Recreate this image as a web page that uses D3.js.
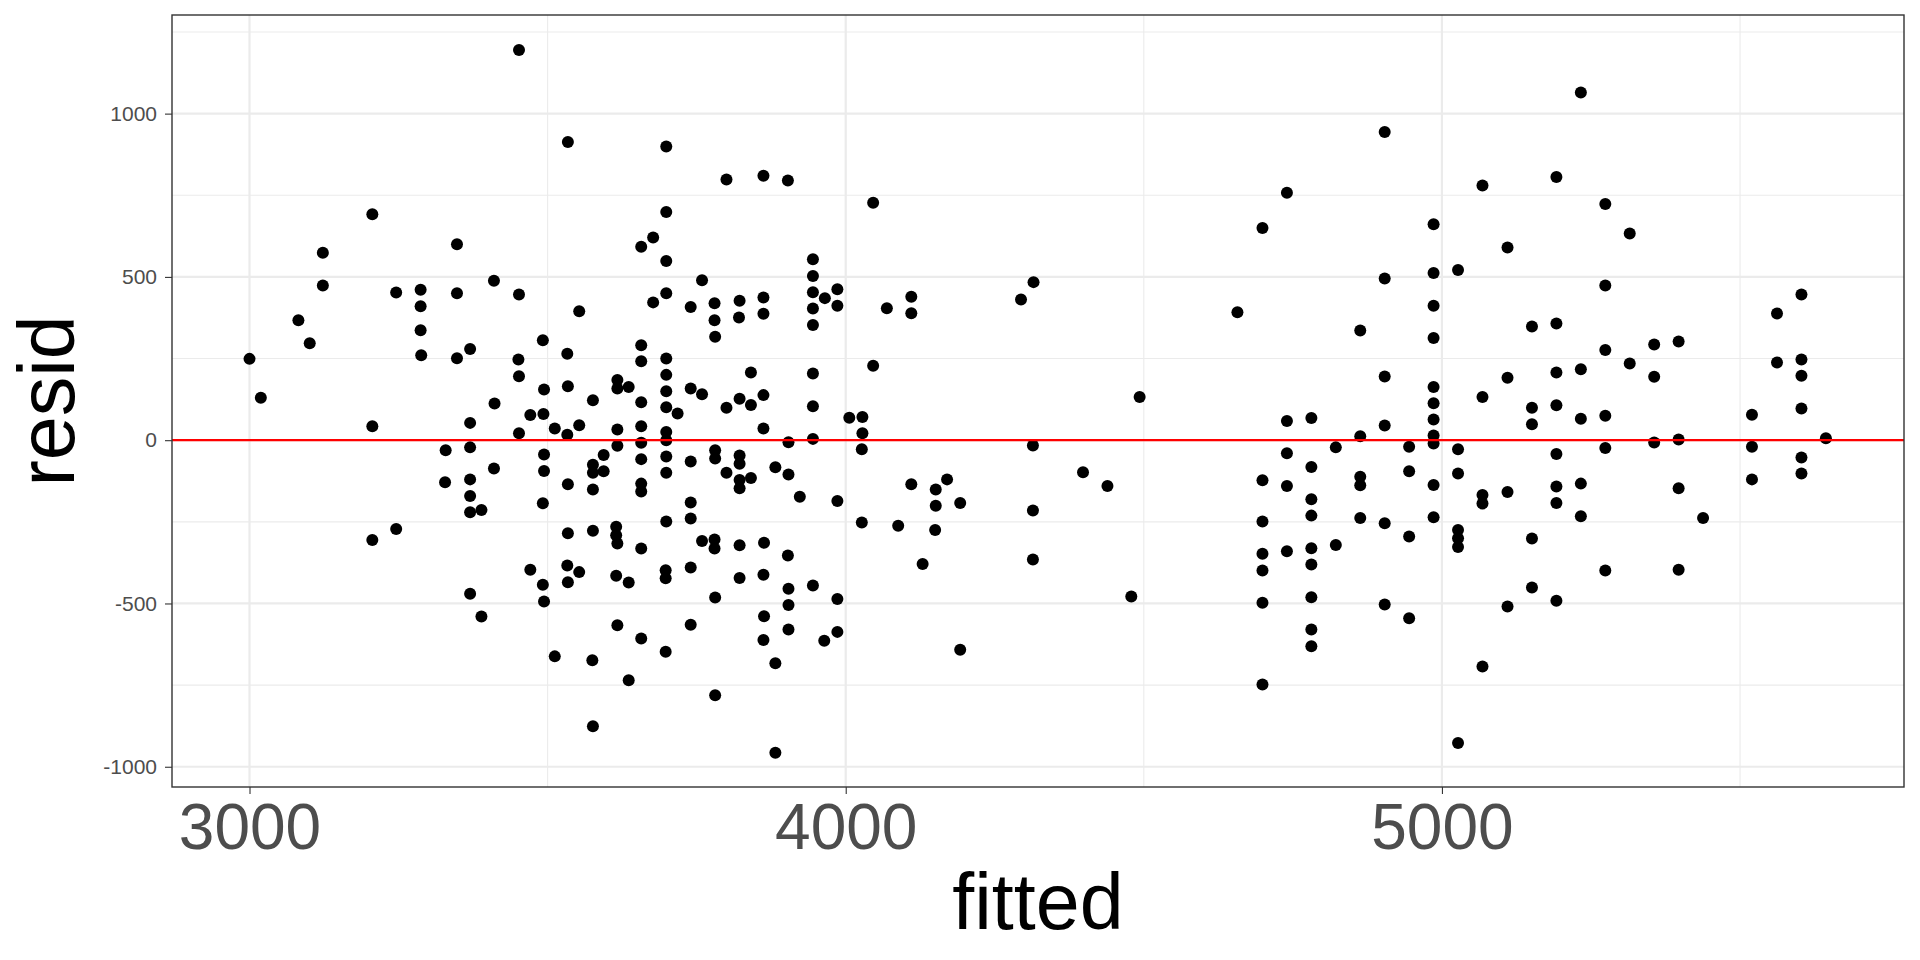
<!DOCTYPE html>
<html>
<head>
<meta charset="utf-8">
<script src="https://cdn.jsdelivr.net/npm/d3@7"></script>
<style>
  body { margin: 0; background: #fff; }
  svg { display: block; }
</style>
</head>
<body>
<div id="chart"></div>
<script>
// tick values
const xTicks = [3000, 4000, 5000];
const xMinor = [3500, 4500, 5500];
const yTicks = [-1000, -500, 0, 500, 1000];
const yMinor = [-750, -250, 250, 750, 1250];

// [fitted, resid], lower fitted cluster
const lowerTop = [
  [3452,1195],[3534,913],[3206,692],[3348,600],[3123,574],[3123,474],[3410,488],[3246,452],
  [3287,461],[3348,450],[3452,446],[3287,410],[3553,395],[3082,367],[3287,337],[3101,297],
  [3492,306],[3370,279],[3000,249],[3288,260],[3348,251],[3533,265],[3451,247],[3452,196],
  [3019,130],[3494,155],[3534,165],[3411,112],[3576,122]
];
const lowerBottom = [
  [3206,43],[3370,53],[3471,77],[3493,80],[3452,21],[3512,36],[3533,17],[3553,46],
  [3329,-31],[3370,-22],[3494,-44],[3594,-45],[3576,-75],[3576,-100],[3594,-95],[3410,-87],
  [3494,-94],[3328,-129],[3370,-120],[3534,-135],[3576,-151],[3370,-171],[3492,-193],[3370,-221],
  [3389,-214],[3246,-272],[3206,-306],[3534,-285],[3576,-277],[3471,-397],[3533,-384],[3553,-404],
  [3492,-443],[3534,-435],[3370,-470],[3494,-494],[3389,-540],[3512,-662],[3575,-674],[3576,-876]
];
const middleTop = [
  [3699,899],[3800,798],[3862,810],[3903,795],[4046,727],[3699,699],[3677,621],[3657,592],
  [3699,549],[3945,554],[3945,503],[3759,490],[3699,450],[3677,422],[3740,408],[3780,419],
  [3822,427],[3862,437],[3945,453],[3965,435],[3986,462],[3986,412],[3945,403],[4069,404],
  [4110,439],[4110,389],[4294,431],[4315,484],[3780,367],[3821,376],[3862,387],[3945,353],
  [3781,317],[3657,291],[3657,242],[3699,250],[4046,228],[3841,207],[3945,204],[3617,184],
  [3617,158],[3636,163],[3699,200],[3699,150],[3740,158],[3759,141],[3657,116],[3822,127],
  [3841,108],[3862,138],[3699,101],[3800,99],[3945,104]
];
const middleBottom = [
  [3718,82],[4006,69],[4028,71],[3617,33],[3657,43],[3699,25],[3699,0],[3657,-8],
  [3617,-17],[3862,36],[3904,-6],[3945,4],[4028,21],[4027,-28],[4314,-16],[3657,-58],
  [3699,-50],[3699,-100],[3740,-65],[3781,-31],[3781,-56],[3800,-100],[3822,-47],[3822,-72],
  [3822,-122],[3822,-147],[3841,-116],[3882,-83],[3904,-105],[3923,-173],[3986,-186],[3657,-133],
  [3657,-157],[3740,-191],[3740,-240],[3699,-249],[4027,-252],[4110,-135],[4151,-151],[4170,-120],
  [4151,-201],[4192,-192],[4314,-215],[4088,-262],[4150,-275],[3615,-265],[3615,-291],[3617,-316],
  [3657,-332],[3759,-309],[3780,-304],[3780,-332],[3822,-322],[3863,-314],[3903,-353],[4314,-365],
  [4129,-379],[3615,-415],[3636,-436],[3698,-398],[3698,-423],[3740,-390],[3822,-422],[3862,-412],
  [3904,-455],[3945,-445],[3781,-482],[3904,-505],[3986,-486],[3617,-567],[3657,-607],[3698,-648],
  [3740,-565],[3863,-539],[3862,-612],[3904,-580],[3964,-614],[3986,-587],[3882,-683],[4192,-642],
  [3636,-735],[3781,-781],[3882,-957]
];
// upper fitted cluster
const upperTop = [
  [4904,944],[4740,758],[4699,650],[4986,661],[5027,521],[4904,495],[4986,512],[4986,412],
  [4657,392],[4863,336],[4986,313],[4904,195],[4986,163],[4986,113],[4493,132],
  [5233,1065],[5068,780],[5192,806],[5274,723],[5315,633],[5110,590],[5274,474],[5562,388],
  [5603,446],[5151,348],[5192,357],[5274,276],[5356,293],[5397,302],[5315,235],[5562,238],
  [5603,247],[5603,197],[5110,191],[5192,207],[5233,217],[5356,194],[5068,132],[5192,107]
];
const upperBottom = [
  [4740,59],[4781,68],[4986,63],[4904,45],[4863,12],[4986,14],[4986,-10],[4822,-22],
  [4945,-20],[5027,-28],[4740,-40],[4781,-82],[4945,-95],[5027,-102],[4398,-98],[4439,-140],
  [4699,-123],[4740,-140],[4863,-112],[4863,-138],[4986,-137],[4781,-181],[4781,-231],[4863,-238],
  [4986,-236],[4699,-249],[4904,-254],[4945,-295],[5027,-275],[5027,-300],[5027,-327],[4822,-321],
  [4699,-348],[4740,-340],[4781,-331],[4781,-381],[4699,-399],[4479,-479],[4699,-498],[4781,-481],
  [4904,-503],[4945,-545],[4781,-580],[4781,-631],[4699,-748],[5027,-927],
  [5151,99],[5151,49],[5233,66],[5274,75],[5520,78],[5603,97],[5356,-7],[5397,2],
  [5644,6],[5520,-20],[5274,-24],[5192,-42],[5603,-53],[5603,-102],[5520,-120],[5068,-168],
  [5068,-194],[5110,-159],[5192,-142],[5192,-192],[5233,-133],[5233,-233],[5397,-147],[5438,-238],
  [5151,-301],[5274,-399],[5397,-397],[5151,-451],[5110,-509],[5192,-492],[5068,-693]
];

const points = [].concat(lowerTop, lowerBottom, middleTop, middleBottom, upperTop, upperBottom);

const width = 1920;
const height = 960;
const panel = { left: 172, right: 1904, top: 15, bottom: 787 };

const svg = d3
  .select("#chart")
  .append("svg")
  .attr("width", width)
  .attr("height", height)
  .style("font-family", "'Liberation Sans', Arial, Helvetica, sans-serif");

const xScale = d3.scaleLinear().domain([2870, 5775]).range([panel.left, panel.right]);
const yScale = d3.scaleLinear().domain([-1062, 1302]).range([panel.bottom, panel.top]);

// panel background
svg
  .append("rect")
  .attr("x", panel.left)
  .attr("y", panel.top)
  .attr("width", panel.right - panel.left)
  .attr("height", panel.bottom - panel.top)
  .attr("fill", "#fff");

// grid lines
const grid = svg.append("g");
grid
  .selectAll(".ymin")
  .data(yMinor)
  .enter()
  .append("line")
  .attr("x1", panel.left)
  .attr("x2", panel.right)
  .attr("y1", (d) => yScale(d))
  .attr("y2", (d) => yScale(d))
  .attr("stroke", "#ebebeb")
  .attr("stroke-width", 1.1);
grid
  .selectAll(".xmin")
  .data(xMinor)
  .enter()
  .append("line")
  .attr("y1", panel.top)
  .attr("y2", panel.bottom)
  .attr("x1", (d) => xScale(d))
  .attr("x2", (d) => xScale(d))
  .attr("stroke", "#ebebeb")
  .attr("stroke-width", 1.1);
grid
  .selectAll(".ymaj")
  .data(yTicks)
  .enter()
  .append("line")
  .attr("x1", panel.left)
  .attr("x2", panel.right)
  .attr("y1", (d) => yScale(d))
  .attr("y2", (d) => yScale(d))
  .attr("stroke", "#ebebeb")
  .attr("stroke-width", 2.2);
grid
  .selectAll(".xmaj")
  .data(xTicks)
  .enter()
  .append("line")
  .attr("y1", panel.top)
  .attr("y2", panel.bottom)
  .attr("x1", (d) => xScale(d))
  .attr("x2", (d) => xScale(d))
  .attr("stroke", "#ebebeb")
  .attr("stroke-width", 2.2);

// points
svg
  .append("g")
  .selectAll("circle")
  .data(points)
  .enter()
  .append("circle")
  .attr("cx", (d) => xScale(d[0]))
  .attr("cy", (d) => yScale(d[1]))
  .attr("r", 6)
  .attr("fill", "#000");

// zero reference line
svg
  .append("line")
  .attr("x1", panel.left)
  .attr("x2", panel.right)
  .attr("y1", yScale(0))
  .attr("y2", yScale(0))
  .attr("stroke", "#ff0000")
  .attr("stroke-width", 2.2);

// panel border
svg
  .append("rect")
  .attr("x", panel.left)
  .attr("y", panel.top)
  .attr("width", panel.right - panel.left)
  .attr("height", panel.bottom - panel.top)
  .attr("fill", "none")
  .attr("stroke", "#333333")
  .attr("stroke-width", 1.4);

// axes
const xAxis = svg
  .append("g")
  .attr("transform", `translate(0, ${panel.bottom})`)
  .call(d3.axisBottom(xScale).tickValues(xTicks).tickSize(7).tickPadding(10).tickFormat(d3.format("d")));
xAxis.select(".domain").remove();
xAxis.selectAll("line").attr("stroke", "#333333").attr("stroke-width", 1.1);
xAxis
  .selectAll("text")
  .attr("fill", "#4d4d4d")
  .style("font-size", "64px")
  .style("font-family", "'Liberation Sans', Arial, sans-serif");

const yAxis = svg
  .append("g")
  .attr("transform", `translate(${panel.left}, 0)`)
  .call(d3.axisLeft(yScale).tickValues(yTicks).tickSize(7).tickPadding(8).tickFormat((d) => String(d)));
yAxis.select(".domain").remove();
yAxis.selectAll("line").attr("stroke", "#333333").attr("stroke-width", 1.1);
yAxis
  .selectAll("text")
  .attr("fill", "#4d4d4d")
  .style("font-size", "21px")
  .style("font-family", "'Liberation Sans', Arial, sans-serif");

// axis titles
svg
  .append("text")
  .attr("x", (panel.left + panel.right) / 2)
  .attr("y", 929)
  .attr("text-anchor", "middle")
  .style("font-size", "79px")
  .attr("fill", "#000")
  .text("fitted");

svg
  .append("text")
  .attr("transform", `translate(74, ${(panel.top + panel.bottom) / 2}) rotate(-90)`)
  .attr("text-anchor", "middle")
  .style("font-size", "79px")
  .attr("fill", "#000")
  .text("resid");
</script>
</body>
</html>
